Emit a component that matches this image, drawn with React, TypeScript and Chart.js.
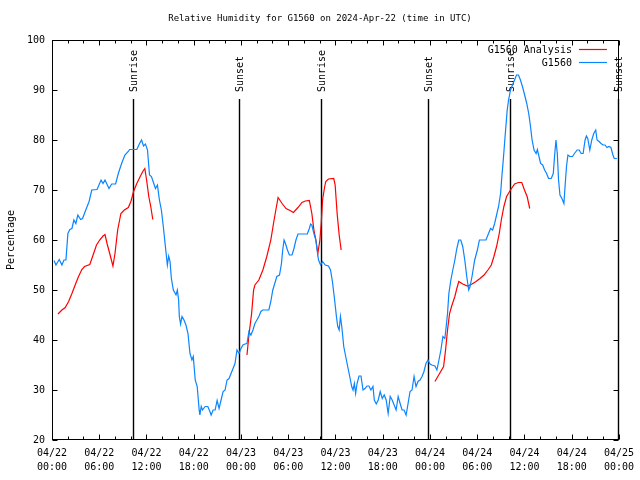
import React, { useEffect, useRef } from "react";
import { Chart, registerables } from "chart.js";

Chart.register(...registerables);

// Hours since 2024-04-22 00:00 UTC
const blueHours = [
  0.25, 0.5, 0.92, 1.26, 1.52, 1.77, 2.02, 2.27, 2.53, 2.78, 3.03, 3.28, 3.63, 3.88, 4.29, 4.71, 5.05, 5.72,
  6.23, 6.48, 6.73, 7.24, 7.58, 8.08, 8.42, 8.84, 9.26, 9.69, 9.85, 10.77, 11.12, 11.37, 11.62, 11.87, 12.13,
  12.38, 12.63, 12.88, 13.14, 13.39, 13.64, 13.89, 14.15, 14.4, 14.65, 14.82, 14.99, 15.16, 15.41, 15.75,
  15.92, 16.08, 16.17, 16.33, 16.51, 16.76, 17.01, 17.27, 17.52, 17.77, 17.94, 18.19, 18.44, 18.69, 18.78,
  18.95, 19.11, 19.45, 19.79, 20.05, 20.21, 20.46, 20.72, 20.97, 21.22, 21.47, 21.73, 21.98, 22.23, 22.48,
  22.74, 22.99, 23.24, 23.49, 23.75, 24.0, 24.25, 24.51, 24.76, 25.01, 25.26, 25.52, 25.77, 26.02, 26.27,
  26.53, 26.78, 27.54, 27.79, 28.04, 28.29, 28.55, 28.89, 29.14, 29.3, 29.47, 29.65, 29.9, 30.15, 30.48,
  30.73, 30.98, 31.24, 32.42, 32.68, 32.84, 33.0, 33.26, 33.51, 33.69, 33.85, 34.1, 34.36, 34.7, 35.11,
  35.37, 35.62, 35.87, 36.12, 36.29, 36.47, 36.63, 36.8, 37.05, 37.3, 37.55, 37.81, 38.06, 38.23, 38.4,
  38.56, 38.74, 38.99, 39.24, 39.5, 39.75, 40.0, 40.25, 40.5, 40.76, 40.93, 41.18, 41.43, 41.68, 41.94,
  42.19, 42.44, 42.69, 42.95, 43.2, 43.45, 43.7, 43.96, 44.21, 44.46, 44.71, 44.97, 45.22, 45.47, 45.72,
  45.98, 46.23, 46.48, 46.74, 46.99, 47.24, 47.49, 47.75, 48.0, 48.25, 48.63, 48.88, 49.14, 49.39, 49.64,
  49.89, 50.06, 50.23, 50.4, 50.65, 50.9, 51.16, 51.41, 51.66, 51.91, 52.16, 52.42, 52.67, 52.92, 53.09,
  53.34, 53.68, 54.02, 54.28, 55.11, 55.36, 55.7, 55.96, 56.21, 56.46, 56.71, 56.97, 57.13, 57.31, 57.47,
  57.64, 57.81, 57.98, 58.23, 58.48, 58.74, 58.99, 59.24, 59.49, 59.78, 60.04, 60.29, 60.54, 60.72, 60.97,
  61.22, 61.48, 61.64, 61.8, 62.05, 62.31, 62.56, 62.81, 63.06, 63.4, 63.66, 63.82, 64.0, 64.17, 64.33,
  64.51, 64.76, 65.01, 65.18, 65.34, 65.52, 65.77, 66.1, 66.35, 66.69, 66.95, 67.2, 67.45, 67.7, 67.87,
  68.04, 68.3, 68.55, 68.8, 69.05, 69.22, 69.47, 69.72, 69.98, 70.23, 70.48, 70.73, 70.98, 71.24, 71.4, 71.74,
];
const blueValues = [
  55.9, 55.0, 56.1, 55.0, 56.0, 56.0, 61.3, 62.1, 62.3, 64.0, 63.3, 65.0, 64.1, 64.3, 66.0, 67.7, 70.0, 70.1,
  72.0, 71.3, 72.0, 70.3, 71.2, 71.2, 73.3, 75.3, 77.0, 77.7, 78.1, 78.1, 79.3, 80.0, 78.8, 79.2, 78.0,
  73.0, 72.7, 71.5, 70.3, 71.0, 68.0, 66.0, 62.5, 58.7, 55.0, 56.8, 55.7, 52.3, 50.0, 49.0,
  50.0, 48.0, 44.7, 43.2, 44.7, 44.0, 43.0, 41.3, 37.3, 36.0, 36.7, 32.0, 30.7, 26.0, 25.0,
  26.7, 26.0, 26.7, 26.7, 25.7, 25.0, 26.0, 26.0, 27.9, 26.3, 28.0, 29.7, 30.0, 32.0, 32.3,
  33.3, 34.3, 35.3, 38.0, 37.3, 38.3, 39.0, 39.2, 39.3, 41.7, 41.0, 42.0, 43.3, 44.0, 44.7,
  45.7, 46.0, 46.0, 47.7, 50.0, 51.3, 52.7, 53.0, 55.3, 58.0, 60.0, 59.3, 58.0, 57.0, 57.0,
  58.3, 60.0, 61.2, 61.2, 62.3, 63.2, 63.0, 61.3, 60.0, 57.7, 56.0, 55.0, 55.7, 55.0, 54.8,
  54.0, 51.6, 48.3, 44.7, 42.7, 42.0, 44.7, 42.7, 38.7, 36.7, 34.7, 32.7, 30.7, 30.0, 31.3,
  29.3, 31.3, 32.8, 32.8, 30.0, 30.3, 30.8, 30.8, 30.0, 30.7, 28.0, 27.2, 28.0, 29.7, 28.3,
  29.0, 28.0, 25.3, 28.7, 28.0, 27.0, 26.0, 28.7, 27.3, 26.0, 26.0, 25.0, 27.3, 29.7, 30.0,
  32.7, 30.7, 31.7, 32.0, 32.7, 33.7, 35.3, 36.0, 35.2, 35.0, 34.8, 34.0, 36.0, 38.0, 40.7,
  40.3, 42.7, 45.3, 49.3, 52.0, 54.0, 56.0, 58.3, 60.0, 60.0, 58.7, 56.0, 52.7, 50.0, 50.7,
  52.7, 56.0, 58.0, 60.0, 60.0, 61.0, 62.3, 62.0, 63.3, 65.0, 66.7, 69.3, 72.7, 76.0, 79.3,
  82.7, 86.0, 88.0, 90.0, 91.0, 92.0, 93.0, 93.0, 92.0, 90.5, 88.9, 87.3, 85.3, 83.3, 80.0,
  78.0, 77.3, 78.1, 77.0, 75.3, 75.0, 74.0, 73.3, 72.3, 72.3, 73.3, 76.7, 80.0, 77.3, 72.0,
  69.0, 68.3, 67.3, 71.3, 74.7, 77.0, 76.7, 76.7, 77.3, 78.0, 78.0, 77.3, 77.3, 80.0, 80.8,
  80.3, 78.0, 80.0, 81.3, 82.0, 80.0, 79.7, 79.3, 79.0, 79.0, 78.5, 78.7, 78.5, 77.0, 76.3, 76.3,
];

// Analysis series (null = gap between model runs)
const redHours = [
  0.76, 1.26, 1.68, 2.11, 2.53, 2.94, 3.37, 3.79, 4.13, 4.8, 5.22, 5.65, 6.06, 6.48, 6.73, 6.99, 7.33, 7.74,
  8.0, 8.34, 8.75, 9.18, 9.69, 10.02, 10.36, 10.77, 11.2, 11.53, 11.79, 12.04, 12.29, 12.54, 12.8,
  18.0,
  24.76, 25.01, 25.35, 25.6, 25.77, 26.27, 26.78, 27.28, 27.79, 28.13, 28.46, 28.71, 29.22, 29.72, 30.23,
  30.66, 31.24, 31.74, 32.17, 32.68, 33.0, 33.26, 33.51, 33.76, 34.02, 34.19, 34.36, 34.61, 34.77, 35.11,
  35.78, 35.96, 36.21, 36.47, 36.72,
  42.0,
  48.63, 49.22, 49.73, 49.98, 50.23, 50.49, 50.74, 51.16, 51.41, 51.66, 52.16, 52.76, 53.34, 53.85, 54.35,
  54.86, 55.36, 55.79, 56.12, 56.46, 56.8, 57.06, 57.39, 57.73, 58.23, 58.74, 59.24, 59.66, 60.0, 60.34, 60.67,
];
const redValues = [
  45.2, 46.0, 46.5, 47.7, 49.3, 51.0, 52.7, 54.1, 54.7, 55.1, 57.0, 59.0, 60.0, 60.8, 61.1, 59.3, 57.3, 54.8,
  57.3, 62.0, 65.3, 66.0, 66.5, 67.7, 69.7, 71.3, 72.7, 73.7, 74.3, 71.7, 68.7, 66.7, 64.1,
  null,
  37.0, 41.0, 45.3, 50.0, 51.0, 52.0, 54.0, 56.7, 60.0, 63.3, 66.3, 68.5, 67.3, 66.3, 65.9,
  65.5, 66.5, 67.5, 67.8, 67.9, 65.3, 62.0, 60.0, 57.3, 60.0, 63.3, 68.0, 70.5, 71.7, 72.2,
  72.3, 71.0, 65.3, 61.0, 58.0,
  null,
  31.7, 33.3, 34.7, 38.0, 42.0, 45.3, 46.7, 48.7, 50.3, 51.7, 51.2, 50.8, 51.2, 51.7, 52.3,
  53.0, 54.0, 55.0, 56.7, 58.7, 61.3, 64.0, 66.7, 68.7, 70.0, 71.2, 71.5, 71.5, 70.0, 68.7, 66.3,
];

const sunriseHours = [10.23, 34.12, 58.13];
const sunsetHours = [23.78, 47.8, 71.9];

const dateLabels = ["04/22", "04/22", "04/22", "04/22", "04/23", "04/23", "04/23", "04/23", "04/24", "04/24", "04/24", "04/24", "04/25"];
const timeLabels = ["00:00", "06:00", "12:00", "18:00", "00:00", "06:00", "12:00", "18:00", "00:00", "06:00", "12:00", "18:00", "00:00"];

const seriesNames = ["G1560 Analysis", "G1560"];
const titleText = "Relative Humidity for G1560 on 2024-Apr-22 (time in UTC)";
const yTitle = "Percentage";

const RED = "#ff0000";
const BLUE = "#0a84ff";
const FONT = "'DejaVu Sans Mono', 'Liberation Mono', monospace";

const gnuplotPlugin = {
  id: "gnuplotDecor",
  beforeDraw(chart: any) {
    const ctx = chart.ctx;
    ctx.save();
    ctx.fillStyle = "#ffffff";
    ctx.fillRect(0, 0, chart.width, chart.height);
    ctx.restore();
  },
  beforeDatasetsDraw(chart: any) {
    const ctx = chart.ctx;
    const xs = chart.scales.x;
    const area = chart.chartArea;
    ctx.save();
    ctx.strokeStyle = "#000";
    ctx.fillStyle = "#000";
    ctx.lineWidth = 1.4;
    ctx.font = `10px ${FONT}`;
    const draw = (h: number, label: string) => {
      const px = Math.round(xs.getPixelForValue(h)) + 0.5;
      ctx.beginPath();
      ctx.moveTo(px, area.top + 59);
      ctx.lineTo(px, area.bottom);
      ctx.stroke();
      ctx.save();
      ctx.translate(px + 1, area.top + 52);
      ctx.rotate(-Math.PI / 2);
      ctx.textAlign = "left";
      ctx.textBaseline = "middle";
      ctx.fillText(label, 0, 0);
      ctx.restore();
    };
    sunriseHours.forEach((h) => draw(h, "Sunrise"));
    sunsetHours.forEach((h) => draw(h, "Sunset"));
    ctx.restore();
  },
  afterDraw(chart: any) {
    const ctx = chart.ctx;
    const xs = chart.scales.x;
    const ys = chart.scales.y;
    const a = chart.chartArea;
    ctx.save();
    ctx.strokeStyle = "#000";
    ctx.lineWidth = 1;
    const L = Math.round(a.left) + 0.5;
    const R = Math.round(a.right) - 0.5;
    const T = Math.round(a.top) + 0.5;
    const B = Math.round(a.bottom) - 0.5;
    ctx.strokeRect(L, T, R - L, B - T);
    ctx.beginPath();
    for (let h = xs.min; h <= xs.max + 1e-6; h += 2) {
      const px = Math.round(xs.getPixelForValue(h)) + 0.5;
      const len = h % 6 === 0 ? 5 : 3;
      ctx.moveTo(px, B);
      ctx.lineTo(px, B - len);
      ctx.moveTo(px, T);
      ctx.lineTo(px, T + len);
    }
    for (const t of ys.ticks) {
      const py = Math.round(ys.getPixelForValue(t.value)) + 0.5;
      ctx.moveTo(L, py);
      ctx.lineTo(L + 5, py);
      ctx.moveTo(R, py);
      ctx.lineTo(R - 5, py);
    }
    ctx.stroke();

    // legend
    ctx.font = `10px ${FONT}`;
    ctx.fillStyle = "#000";
    ctx.textAlign = "right";
    ctx.textBaseline = "middle";
    const colors = [RED, BLUE];
    seriesNames.forEach((name, i) => {
      const y = a.top + 10 + i * 13;
      ctx.fillText(name, a.right - 47, y);
      ctx.strokeStyle = colors[i];
      ctx.lineWidth = 1.2;
      ctx.beginPath();
      ctx.moveTo(a.right - 40, Math.round(y) - 0.5);
      ctx.lineTo(a.right - 12, Math.round(y) - 0.5);
      ctx.stroke();
    });
    ctx.restore();
  },
};

export default function App() {
  const canvasRef = useRef<HTMLCanvasElement | null>(null);

  useEffect(() => {
    document.body.style.margin = "0";
    const canvas = canvasRef.current;
    if (!canvas) return;
    const blueData = blueHours.map((h, i) => ({ x: h, y: blueValues[i] }));
    const redData = redHours.map((h, i) => ({ x: h, y: redValues[i] }));
    const chart = new Chart(canvas, {
      type: "line",
      data: {
        datasets: [
          {
            label: seriesNames[1],
            data: blueData as any,
            borderColor: BLUE,
            borderWidth: 1.2,
            pointRadius: 0,
            tension: 0,
            fill: false,
          },
          {
            label: seriesNames[0],
            data: redData as any,
            borderColor: RED,
            borderWidth: 1.2,
            pointRadius: 0,
            tension: 0,
            fill: false,
            spanGaps: false,
          },
        ],
      },
      options: {
        responsive: false,
        animation: false,
        events: [],
        layout: { padding: 0 },
        plugins: {
          legend: { display: false },
          tooltip: { enabled: false },
          title: {
            display: true,
            text: titleText,
            color: "#000",
            font: { family: FONT, size: 9, weight: "normal" as any, lineHeight: "12px" as any },
            padding: { top: 13, bottom: 15 },
          },
        },
        scales: {
          x: {
            type: "linear",
            min: 0,
            max: 72,
            grid: { display: false, drawTicks: false },
            border: { display: false },
            ticks: {
              stepSize: 6,
              autoSkip: false,
              maxRotation: 0,
              color: "#000",
              padding: 6,
              font: { family: FONT, size: 10, lineHeight: "14px" as any },
              callback: (v: any) => {
                const i = Math.round(Number(v) / 6);
                return [dateLabels[i], timeLabels[i]];
              },
            },
            afterFit: (s: any) => {
              s.height = 40;
            },
          },
          y: {
            type: "linear",
            min: 20,
            max: 100,
            grid: { display: false, drawTicks: false },
            border: { display: false },
            ticks: {
              stepSize: 10,
              color: "#000",
              padding: 7,
              font: { family: FONT, size: 10 },
            },
            title: {
              display: true,
              text: yTitle,
              color: "#000",
              font: { family: FONT, size: 10, lineHeight: 1.2 },
              padding: { top: 5, bottom: 0 },
            },
            afterFit: (s: any) => {
              s.width = 52;
            },
          },
          yRight: {
            type: "linear",
            position: "right",
            display: true,
            min: 20,
            max: 100,
            grid: { display: false, drawTicks: false },
            border: { display: false },
            ticks: { display: false },
            afterFit: (s: any) => {
              s.width = 18;
            },
          },
        },
      },
      plugins: [gnuplotPlugin],
    });
    return () => chart.destroy();
  }, []);

  return (
    <div style={{ position: "fixed", left: 0, top: 0, width: 640, height: 480, background: "#fff" }}>
      <canvas ref={canvasRef} width={640} height={480} />
    </div>
  );
}
